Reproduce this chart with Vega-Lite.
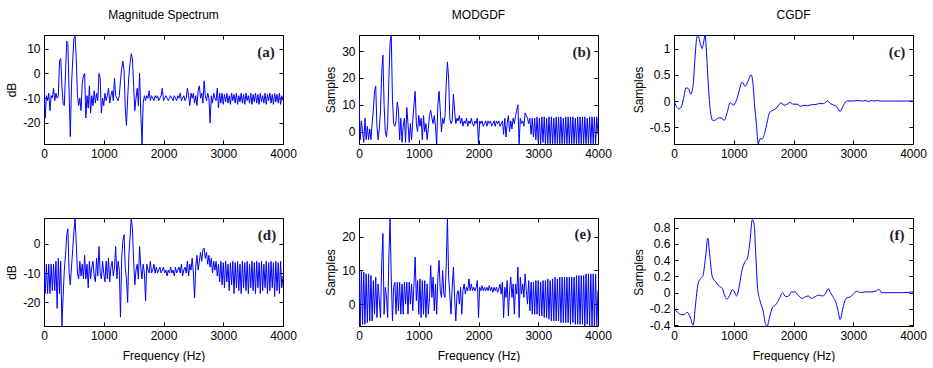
{
"$schema":"https://vega.github.io/schema/vega-lite/v6.json",
"autosize":{"type":"pad"},
"padding":{"left":5,"top":8,"right":0,"bottom":0},
"background":"white",
"datasets":{
"one":[{"k":1}],
"dense":[
{"f":0,"a":-1,"b":13,"d":-7,"e":10},
{"f":20,"a":-18,"b":-3,"d":-17,"e":-6.5},
{"f":40,"a":-9,"b":4,"d":-7,"e":10},
{"f":60,"a":-11,"b":0,"d":-17,"e":-6},
{"f":80,"a":-8,"b":-4,"d":-7,"e":9.5},
{"f":100,"a":-15,"b":5,"d":-17,"e":-6},
{"f":120,"a":-9,"b":-3,"d":-7,"e":9},
{"f":140,"a":-10,"b":2,"d":-16,"e":-5.5},
{"f":160,"a":-6,"b":-3,"d":-7,"e":9},
{"f":180,"a":-11,"b":1,"d":-16,"e":-5},
{"f":200,"a":-8,"b":-3,"d":-6,"e":8.5},
{"f":220,"a":-10,"b":3,"d":-22,"e":-5},
{"f":240,"a":-9,"b":8,"d":-5,"e":7},
{"f":260,"a":5,"b":15,"d":-17,"e":-3},
{"f":280,"a":6,"b":17,"d":-6,"e":8},
{"f":300,"a":-5,"b":2,"d":-28,"e":-4},
{"f":320,"a":-12,"b":-3,"d":-18,"e":6},
{"f":340,"a":-13,"b":1,"d":-9,"e":1},
{"f":360,"a":0,"b":8,"d":-4,"e":-4},
{"f":380,"a":13,"b":22,"d":3,"e":12},
{"f":400,"a":12,"b":28.5,"d":5,"e":21},
{"f":420,"a":-8,"b":10,"d":-10,"e":-3},
{"f":440,"a":-25.5,"b":0,"d":-14,"e":5},
{"f":460,"a":-5,"b":-2,"d":-8,"e":2},
{"f":480,"a":5,"b":3,"d":-2,"e":-4},
{"f":500,"a":14,"b":20,"d":4,"e":14},
{"f":520,"a":15,"b":33,"d":8.7,"e":25.6},
{"f":540,"a":6,"b":36,"d":0,"e":8},
{"f":560,"a":-9,"b":12,"d":-10,"e":-5},
{"f":580,"a":-13,"b":3,"d":-12,"e":5},
{"f":600,"a":-10,"b":2,"d":-6,"e":6.5},
{"f":620,"a":-15,"b":4,"d":-11,"e":-3},
{"f":640,"a":-4,"b":11,"d":-7,"e":6.5},
{"f":660,"a":-1,"b":8,"d":-12,"e":-2},
{"f":680,"a":0,"b":-3,"d":-4,"e":6.5},
{"f":700,"a":-18,"b":5,"d":-12,"e":-3},
{"f":720,"a":-9,"b":-4,"d":-7,"e":6},
{"f":740,"a":-14,"b":2,"d":-15,"e":-3},
{"f":760,"a":-5,"b":5,"d":-6,"e":6.5},
{"f":780,"a":-16,"b":-4,"d":-12,"e":0},
{"f":800,"a":-9,"b":9,"d":-8,"e":6.5},
{"f":820,"a":-13,"b":3,"d":-6,"e":-3},
{"f":840,"a":-7,"b":-4,"d":-11,"e":6.5},
{"f":860,"a":-12,"b":3,"d":-13,"e":0},
{"f":880,"a":-8,"b":-3,"d":-5,"e":6},
{"f":900,"a":-11,"b":4,"d":-11,"e":-2},
{"f":920,"a":0,"b":10,"d":-1,"e":6},
{"f":940,"a":-2,"b":15,"d":-10,"e":14},
{"f":960,"a":-16,"b":3,"d":-12,"e":1},
{"f":980,"a":-10,"b":0,"d":-6,"e":7},
{"f":1000,"a":-13,"b":6,"d":-10,"e":-3},
{"f":1020,"a":-8,"b":2,"d":-13,"e":7.5},
{"f":1040,"a":-11,"b":5,"d":-6,"e":-4},
{"f":1060,"a":-9,"b":-3,"d":-12,"e":7},
{"f":1080,"a":-6,"b":6,"d":-5,"e":-3},
{"f":1100,"a":-12,"b":0,"d":-13,"e":7},
{"f":1120,"a":-9,"b":3,"d":-8,"e":-4},
{"f":1140,"a":-7,"b":-3,"d":-6,"e":6},
{"f":1160,"a":-11,"b":1,"d":-11,"e":-3},
{"f":1180,"a":-2,"b":6,"d":-8,"e":2},
{"f":1200,"a":-9,"b":8,"d":-1,"e":11.5},
{"f":1220,"a":-10,"b":5,"d":-12,"e":2},
{"f":1240,"a":-11,"b":3,"d":-6,"e":8},
{"f":1260,"a":-9,"b":6,"d":-9,"e":-2},
{"f":1280,"a":-3,"b":2,"d":-25,"e":6},
{"f":1300,"a":2,"b":-4.6,"d":-5,"e":-3},
{"f":1320,"a":5,"b":10,"d":1,"e":8},
{"f":1340,"a":1,"b":15,"d":3,"e":13},
{"f":1360,"a":-14,"b":8,"d":-8,"e":4},
{"f":1380,"a":-21,"b":0,"d":-12,"e":2},
{"f":1400,"a":-10,"b":5,"d":-20,"e":10},
{"f":1420,"a":-1,"b":3,"d":-4,"e":3},
{"f":1440,"a":4,"b":6,"d":2,"e":2},
{"f":1460,"a":8,"b":18,"d":8.7,"e":12},
{"f":1480,"a":6,"b":26,"d":5,"e":25.6},
{"f":1500,"a":-5,"b":20,"d":-6,"e":8},
{"f":1520,"a":-15,"b":5,"d":-14,"e":3},
{"f":1540,"a":-10,"b":3,"d":-9,"e":-3},
{"f":1560,"a":-6,"b":4,"d":-7,"e":5},
{"f":1580,"a":-13,"b":14,"d":-12,"e":11},
{"f":1600,"a":0,"b":8,"d":-1,"e":2},
{"f":1620,"a":-16,"b":3,"d":-8,"e":-5},
{"f":1640,"a":-28.5,"b":5,"d":-12,"e":3},
{"f":1660,"a":-12,"b":4,"d":-7,"e":4},
{"f":1680,"a":-9,"b":6,"d":-10,"e":0},
{"f":1700,"a":-11,"b":3,"d":-19.5,"e":5},
{"f":1720,"a":-9,"b":5,"d":-7,"e":-3},
{"f":1740,"a":-10,"b":2,"d":-9,"e":4},
{"f":1760,"a":-7,"b":4,"d":-10,"e":6},
{"f":1780,"a":-11,"b":3,"d":-6,"e":3},
{"f":1800,"a":-9,"b":5,"d":-10,"e":5},
{"f":1820,"a":-10,"b":2,"d":-9,"e":4},
{"f":1840,"a":-11,"b":4,"d":-7,"e":7.5},
{"f":1860,"a":-9,"b":3,"d":-10,"e":4},
{"f":1880,"a":-10,"b":5,"d":-8,"e":6},
{"f":1900,"a":-9,"b":3,"d":-10,"e":4},
{"f":1920,"a":-11,"b":2,"d":-9,"e":5},
{"f":1940,"a":-10,"b":4,"d":-8,"e":4},
{"f":1960,"a":-9,"b":3,"d":-10,"e":5},
{"f":1980,"a":-6,"b":5,"d":-9,"e":7},
{"f":2000,"a":-11,"b":-4.5,"d":-8,"e":-4},
{"f":2020,"a":-10,"b":4,"d":-10,"e":5},
{"f":2040,"a":-9,"b":3,"d":-9,"e":4},
{"f":2060,"a":-10,"b":4,"d":-11,"e":5.5},
{"f":2080,"a":-11,"b":2,"d":-9,"e":4},
{"f":2100,"a":-10,"b":3,"d":-10,"e":5},
{"f":2120,"a":-9,"b":4,"d":-8,"e":4},
{"f":2140,"a":-10,"b":2,"d":-10,"e":5},
{"f":2160,"a":-11,"b":4,"d":-9,"e":4},
{"f":2180,"a":-9,"b":3,"d":-11,"e":5.5},
{"f":2200,"a":-10,"b":4,"d":-8,"e":4},
{"f":2220,"a":-11,"b":2,"d":-10,"e":5},
{"f":2240,"a":-9,"b":3,"d":-9,"e":3.5},
{"f":2260,"a":-10,"b":4,"d":-8,"e":5},
{"f":2280,"a":-8,"b":2,"d":-10,"e":4},
{"f":2300,"a":-11,"b":4,"d":-7,"e":5},
{"f":2320,"a":-10,"b":3,"d":-11,"e":3.5},
{"f":2340,"a":-9,"b":4,"d":-9,"e":4.5},
{"f":2360,"a":-11,"b":2,"d":-8,"e":6},
{"f":2380,"a":-10,"b":3,"d":-10,"e":3},
{"f":2400,"a":-6,"b":4,"d":-6,"e":6.5},
{"f":2420,"a":-9,"b":-1,"d":-11,"e":-4},
{"f":2440,"a":-13,"b":5,"d":-7,"e":5},
{"f":2460,"a":-8,"b":-2,"d":-9,"e":2},
{"f":2480,"a":-10,"b":3,"d":-5,"e":7},
{"f":2500,"a":-8,"b":6,"d":-10,"e":-3.5},
{"f":2520,"a":-12,"b":0,"d":-18.5,"e":4},
{"f":2540,"a":-9,"b":4,"d":-8,"e":8},
{"f":2560,"a":-13,"b":1,"d":-4,"e":2},
{"f":2580,"a":-7,"b":5,"d":-9,"e":6},
{"f":2600,"a":-5,"b":3,"d":-6,"e":-3},
{"f":2620,"a":-10,"b":6,"d":-3,"e":6},
{"f":2640,"a":-8,"b":8,"d":-6,"e":3},
{"f":2660,"a":-12,"b":10,"d":-2,"e":11},
{"f":2680,"a":-3,"b":-4.5,"d":-1.5,"e":-4},
{"f":2700,"a":-9,"b":5,"d":-5,"e":8},
{"f":2720,"a":-11,"b":3,"d":-3,"e":3},
{"f":2740,"a":-8,"b":4,"d":-7,"e":6},
{"f":2760,"a":-10,"b":2,"d":-4,"e":2},
{"f":2780,"a":-20,"b":7,"d":-8,"e":9},
{"f":2800,"a":-9,"b":6,"d":-5,"e":4},
{"f":2820,"a":-12,"b":5,"d":-10,"e":0},
{"f":2840,"a":-8,"b":3,"d":-6,"e":7},
{"f":2860,"a":-10,"b":5,"d":-9,"e":-2},
{"f":2880,"a":-11,"b":-1,"d":-6,"e":6.5},
{"f":2900,"a":-6,"b":5,"d":-11,"e":-3},
{"f":2920,"a":-14,"b":-2,"d":-7,"e":6.5},
{"f":2940,"a":-8,"b":5,"d":-13,"e":-3},
{"f":2960,"a":-12,"b":-3,"d":-6,"e":7},
{"f":2980,"a":-8,"b":5.5,"d":-14,"e":-3},
{"f":3000,"a":-12.5,"b":-4,"d":-6.5,"e":7},
{"f":3020,"a":-8.5,"b":5,"d":-15,"e":-3.5},
{"f":3040,"a":-11.5,"b":-4.5,"d":-6,"e":6.5},
{"f":3060,"a":-8,"b":5.5,"d":-13,"e":-3.5},
{"f":3080,"a":-12,"b":-4,"d":-7,"e":7},
{"f":3100,"a":-9,"b":5.5,"d":-16,"e":-4},
{"f":3120,"a":-12.5,"b":-4.5,"d":-6.5,"e":7},
{"f":3140,"a":-8,"b":5,"d":-14,"e":-4},
{"f":3160,"a":-11,"b":-4.5,"d":-6,"e":7.5},
{"f":3180,"a":-8.5,"b":5.5,"d":-17,"e":-4.5},
{"f":3200,"a":-12,"b":-4.5,"d":-6.5,"e":7},
{"f":3220,"a":-8,"b":5.5,"d":-15,"e":-5},
{"f":3240,"a":-12.5,"b":-4.5,"d":-6,"e":7.5},
{"f":3260,"a":-9,"b":5,"d":-16,"e":-5},
{"f":3280,"a":-11.5,"b":-4.5,"d":-7,"e":8},
{"f":3300,"a":-8,"b":5.5,"d":-17,"e":-5},
{"f":3320,"a":-12,"b":-4.5,"d":-6,"e":7.5},
{"f":3340,"a":-8.5,"b":5.5,"d":-15,"e":-5},
{"f":3360,"a":-12.5,"b":-4.5,"d":-6.5,"e":8},
{"f":3380,"a":-8,"b":5.5,"d":-16,"e":-5.5},
{"f":3400,"a":-11,"b":-4.5,"d":-6,"e":8},
{"f":3420,"a":-9,"b":5,"d":-17,"e":-5.5},
{"f":3440,"a":-12,"b":-4.5,"d":-7,"e":8},
{"f":3460,"a":-8,"b":5.5,"d":-15,"e":-5.5},
{"f":3480,"a":-12.5,"b":-4.5,"d":-6,"e":8},
{"f":3500,"a":-8.5,"b":5.5,"d":-16,"e":-5.5},
{"f":3520,"a":-11.5,"b":-4.5,"d":-6.5,"e":8},
{"f":3540,"a":-8,"b":5.5,"d":-17,"e":-6},
{"f":3560,"a":-12,"b":-4.5,"d":-6,"e":8},
{"f":3580,"a":-8.5,"b":5.5,"d":-15,"e":-5.5},
{"f":3600,"a":-12.5,"b":-4.5,"d":-6.5,"e":8},
{"f":3620,"a":-8,"b":5,"d":-17,"e":-6},
{"f":3640,"a":-11.5,"b":-4.5,"d":-6,"e":8.5},
{"f":3660,"a":-9,"b":5.5,"d":-16,"e":-6},
{"f":3680,"a":-12,"b":-4.5,"d":-7,"e":8.5},
{"f":3700,"a":-8,"b":5.5,"d":-15,"e":-6},
{"f":3720,"a":-12.5,"b":-4.5,"d":-6,"e":8.5},
{"f":3740,"a":-8.5,"b":5.5,"d":-17,"e":-6},
{"f":3760,"a":-11,"b":-4.5,"d":-6.5,"e":8.5},
{"f":3780,"a":-8,"b":5.5,"d":-16,"e":-6.5},
{"f":3800,"a":-12,"b":-4.5,"d":-6,"e":9},
{"f":3820,"a":-8.5,"b":5,"d":-15,"e":-6},
{"f":3840,"a":-12.5,"b":-4.5,"d":-6.5,"e":9},
{"f":3860,"a":-8,"b":5.5,"d":-18,"e":-6.5},
{"f":3880,"a":-11.5,"b":-4.5,"d":-6,"e":9},
{"f":3900,"a":-8.5,"b":5.5,"d":-16,"e":-6.5},
{"f":3920,"a":-12,"b":-4.5,"d":-6.5,"e":9},
{"f":3940,"a":-8,"b":5.5,"d":-17,"e":-6.5},
{"f":3960,"a":-12.5,"b":-4.5,"d":-6,"e":9},
{"f":3980,"a":-9,"b":5.5,"d":-15,"e":-6.5},
{"f":4000,"a":-11,"b":-1,"d":-11,"e":4}
],
"cgdf1":[
{"f":0,"v":0},{"f":40,"v":-0.1},{"f":80,"v":-0.15},{"f":120,"v":-0.12},{"f":160,"v":0.05},{"f":200,"v":0.25},{"f":240,"v":0.24},{"f":280,"v":0.13},{"f":320,"v":0.3},{"f":350,"v":0.8},{"f":380,"v":1.2},{"f":400,"v":1.26},{"f":440,"v":1.1},{"f":470,"v":1.0},{"f":500,"v":1.15},{"f":520,"v":1.26},{"f":545,"v":0.9},{"f":575,"v":0.3},{"f":610,"v":-0.2},{"f":650,"v":-0.37},{"f":700,"v":-0.36},{"f":740,"v":-0.32},{"f":790,"v":-0.32},{"f":840,"v":-0.37},{"f":890,"v":-0.22},{"f":940,"v":-0.03},{"f":990,"v":-0.08},{"f":1040,"v":0.0},{"f":1080,"v":0.15},{"f":1140,"v":0.36},{"f":1190,"v":0.28},{"f":1240,"v":0.38},{"f":1290,"v":0.5},{"f":1320,"v":0.35},{"f":1350,"v":-0.1},{"f":1380,"v":-0.45},{"f":1410,"v":-0.82},{"f":1440,"v":-0.72},{"f":1480,"v":-0.72},{"f":1520,"v":-0.6},{"f":1560,"v":-0.4},{"f":1600,"v":-0.22},{"f":1650,"v":-0.18},{"f":1700,"v":-0.15},{"f":1750,"v":-0.08},{"f":1790,"v":-0.03},{"f":1840,"v":-0.08},{"f":1880,"v":-0.07},{"f":1940,"v":-0.03},{"f":2000,"v":-0.06},{"f":2060,"v":-0.06},{"f":2120,"v":-0.1},{"f":2180,"v":-0.08},{"f":2240,"v":-0.09},{"f":2300,"v":-0.07},{"f":2360,"v":-0.07},{"f":2420,"v":-0.05},{"f":2500,"v":-0.05},{"f":2570,"v":0.0},{"f":2620,"v":-0.05},{"f":2680,"v":-0.08},{"f":2730,"v":-0.12},{"f":2780,"v":-0.2},{"f":2820,"v":-0.12},{"f":2860,"v":-0.03},{"f":2900,"v":0.0},{"f":3000,"v":0.0},{"f":3060,"v":0.01},{"f":3150,"v":0.0},{"f":3200,"v":0.01},{"f":3260,"v":-0.01},{"f":3300,"v":0.01},{"f":3340,"v":0.0},{"f":3400,"v":0.01},{"f":3450,"v":0.0},{"f":3600,"v":0.0},{"f":4000,"v":0.0}
],
"cgdf2":[
{"f":0,"v":-0.2},{"f":60,"v":-0.24},{"f":120,"v":-0.27},{"f":170,"v":-0.27},{"f":220,"v":-0.24},{"f":270,"v":-0.3},{"f":320,"v":-0.4},{"f":360,"v":-0.15},{"f":400,"v":0.1},{"f":440,"v":0.17},{"f":480,"v":0.2},{"f":530,"v":0.45},{"f":565,"v":0.67},{"f":600,"v":0.45},{"f":640,"v":0.2},{"f":700,"v":0.13},{"f":760,"v":0.08},{"f":810,"v":0.05},{"f":850,"v":-0.04},{"f":890,"v":-0.08},{"f":940,"v":-0.02},{"f":980,"v":0.04},{"f":1010,"v":0.01},{"f":1045,"v":-0.04},{"f":1080,"v":0.03},{"f":1130,"v":0.25},{"f":1180,"v":0.37},{"f":1230,"v":0.43},{"f":1270,"v":0.62},{"f":1310,"v":0.9},{"f":1340,"v":0.85},{"f":1370,"v":0.45},{"f":1400,"v":0.05},{"f":1440,"v":-0.1},{"f":1490,"v":-0.22},{"f":1530,"v":-0.38},{"f":1560,"v":-0.41},{"f":1600,"v":-0.3},{"f":1650,"v":-0.18},{"f":1700,"v":-0.15},{"f":1760,"v":-0.08},{"f":1820,"v":0.0},{"f":1870,"v":-0.05},{"f":1920,"v":-0.04},{"f":1970,"v":0.01},{"f":2020,"v":0.01},{"f":2080,"v":-0.03},{"f":2140,"v":-0.07},{"f":2200,"v":-0.05},{"f":2250,"v":-0.04},{"f":2300,"v":-0.07},{"f":2360,"v":-0.05},{"f":2420,"v":-0.03},{"f":2480,"v":-0.04},{"f":2530,"v":-0.02},{"f":2580,"v":0.05},{"f":2620,"v":0.0},{"f":2660,"v":-0.05},{"f":2700,"v":-0.1},{"f":2740,"v":-0.2},{"f":2780,"v":-0.33},{"f":2830,"v":-0.18},{"f":2880,"v":-0.07},{"f":2950,"v":-0.05},{"f":3000,"v":-0.02},{"f":3060,"v":0.02},{"f":3120,"v":0.0},{"f":3200,"v":0.01},{"f":3300,"v":0.01},{"f":3380,"v":0.02},{"f":3430,"v":0.04},{"f":3480,"v":0.0},{"f":3600,"v":0.0},{"f":3800,"v":0.0},{"f":4000,"v":0.01}
]
},
"columns":3,
"spacing":{"row":74,"column":76},
"bounds":"flush",
"concat":[
{"width":239,"height":109,"title":{"text":"Magnitude Spectrum"},"data":{"name":"dense"},
"layer":[
{"mark":{"type":"line","color":"#0000ff","strokeWidth":1,"clip":true},
"encoding":{"x":{"field":"f","type":"quantitative","scale":{"domain":[0,4000],"nice":false},"axis":{"values":[0,1000,2000,3000,4000],"title":null}},
"y":{"field":"a","type":"quantitative","scale":{"domain":[-28.5,15.5],"nice":false,"zero":false},"axis":{"values":[-20,-10,0,10],"title":"dB"}}}},
{"mark":{"type":"line","strokeOpacity":0},
"encoding":{"x":{"field":"f","type":"quantitative","scale":{"domain":[0,4000],"nice":false},"axis":{"orient":"top","values":[0,1000,2000,3000,4000],"labels":false,"title":null}},
"y":{"field":"a","type":"quantitative","scale":{"domain":[-28.5,15.5],"nice":false,"zero":false},"axis":{"orient":"right","values":[-20,-10,0,10],"labels":false,"title":null}}}},
{"data":{"name":"one"},"mark":{"type":"text","font":"Liberation Serif","fontWeight":"bold","fontSize":15,"color":"#1e1e2a"},
"encoding":{"x":{"datum":3715,"type":"quantitative","scale":{"domain":[0,4000],"nice":false},"axis":null},"y":{"datum":8.7,"type":"quantitative","scale":{"domain":[-28.5,15.5],"nice":false,"zero":false},"axis":null},"text":{"value":"(a)"}}}
],
"resolve":{"axis":{"x":"independent","y":"independent"}}},
{"width":239,"height":109,"title":{"text":"MODGDF"},"data":{"name":"dense"},
"layer":[
{"mark":{"type":"line","color":"#0000ff","strokeWidth":1,"clip":true},
"encoding":{"x":{"field":"f","type":"quantitative","scale":{"domain":[0,4000],"nice":false},"axis":{"values":[0,1000,2000,3000,4000],"title":null}},
"y":{"field":"b","type":"quantitative","scale":{"domain":[-4.6,36],"nice":false,"zero":false},"axis":{"values":[0,10,20,30],"title":"Samples"}}}},
{"mark":{"type":"line","strokeOpacity":0},
"encoding":{"x":{"field":"f","type":"quantitative","scale":{"domain":[0,4000],"nice":false},"axis":{"orient":"top","values":[0,1000,2000,3000,4000],"labels":false,"title":null}},
"y":{"field":"b","type":"quantitative","scale":{"domain":[-4.6,36],"nice":false,"zero":false},"axis":{"orient":"right","values":[0,10,20,30],"labels":false,"title":null}}}},
{"data":{"name":"one"},"mark":{"type":"text","font":"Liberation Serif","fontWeight":"bold","fontSize":15,"color":"#1e1e2a"},
"encoding":{"x":{"datum":3726,"type":"quantitative","scale":{"domain":[0,4000],"nice":false},"axis":null},"y":{"datum":29.7,"type":"quantitative","scale":{"domain":[-4.6,36],"nice":false,"zero":false},"axis":null},"text":{"value":"(b)"}}}
],
"resolve":{"axis":{"x":"independent","y":"independent"}}},
{"width":239,"height":109,"title":{"text":"CGDF"},"data":{"name":"cgdf1"},
"layer":[
{"mark":{"type":"line","color":"#0000ff","strokeWidth":1,"clip":true,"interpolate":"monotone"},
"encoding":{"x":{"field":"f","type":"quantitative","scale":{"domain":[0,4000],"nice":false},"axis":{"values":[0,1000,2000,3000,4000],"title":null}},
"y":{"field":"v","type":"quantitative","scale":{"domain":[-0.82,1.26],"nice":false,"zero":false},"axis":{"values":[-0.5,0,0.5,1],"title":"Samples"}}}},
{"mark":{"type":"line","strokeOpacity":0},
"encoding":{"x":{"field":"f","type":"quantitative","scale":{"domain":[0,4000],"nice":false},"axis":{"orient":"top","values":[0,1000,2000,3000,4000],"labels":false,"title":null}},
"y":{"field":"v","type":"quantitative","scale":{"domain":[-0.82,1.26],"nice":false,"zero":false},"axis":{"orient":"right","values":[-0.5,0,0.5,1],"labels":false,"title":null}}}},
{"data":{"name":"one"},"mark":{"type":"text","font":"Liberation Serif","fontWeight":"bold","fontSize":15,"color":"#1e1e2a"},
"encoding":{"x":{"datum":3732,"type":"quantitative","scale":{"domain":[0,4000],"nice":false},"axis":null},"y":{"datum":0.94,"type":"quantitative","scale":{"domain":[-0.82,1.26],"nice":false,"zero":false},"axis":null},"text":{"value":"(c)"}}}
],
"resolve":{"axis":{"x":"independent","y":"independent"}}},
{"width":239,"height":108,"data":{"name":"dense"},
"layer":[
{"mark":{"type":"line","color":"#0000ff","strokeWidth":1,"clip":true},
"encoding":{"x":{"field":"f","type":"quantitative","scale":{"domain":[0,4000],"nice":false},"axis":{"values":[0,1000,2000,3000,4000],"title":"Frequency (Hz)"}},
"y":{"field":"d","type":"quantitative","scale":{"domain":[-28,8.7],"nice":false,"zero":false},"axis":{"values":[-20,-10,0],"title":"dB"}}}},
{"mark":{"type":"line","strokeOpacity":0},
"encoding":{"x":{"field":"f","type":"quantitative","scale":{"domain":[0,4000],"nice":false},"axis":{"orient":"top","values":[0,1000,2000,3000,4000],"labels":false,"title":null}},
"y":{"field":"d","type":"quantitative","scale":{"domain":[-28,8.7],"nice":false,"zero":false},"axis":{"orient":"right","values":[-20,-10,0],"labels":false,"title":null}}}},
{"data":{"name":"one"},"mark":{"type":"text","font":"Liberation Serif","fontWeight":"bold","fontSize":15,"color":"#1e1e2a"},
"encoding":{"x":{"datum":3732,"type":"quantitative","scale":{"domain":[0,4000],"nice":false},"axis":null},"y":{"datum":3.05,"type":"quantitative","scale":{"domain":[-28,8.7],"nice":false,"zero":false},"axis":null},"text":{"value":"(d)"}}}
],
"resolve":{"axis":{"x":"independent","y":"independent"}}},
{"width":239,"height":108,"data":{"name":"dense"},
"layer":[
{"mark":{"type":"line","color":"#0000ff","strokeWidth":1,"clip":true},
"encoding":{"x":{"field":"f","type":"quantitative","scale":{"domain":[0,4000],"nice":false},"axis":{"values":[0,1000,2000,3000,4000],"title":"Frequency (Hz)"}},
"y":{"field":"e","type":"quantitative","scale":{"domain":[-6.5,25.6],"nice":false,"zero":false},"axis":{"values":[0,10,20],"title":"Samples"}}}},
{"mark":{"type":"line","strokeOpacity":0},
"encoding":{"x":{"field":"f","type":"quantitative","scale":{"domain":[0,4000],"nice":false},"axis":{"orient":"top","values":[0,1000,2000,3000,4000],"labels":false,"title":null}},
"y":{"field":"e","type":"quantitative","scale":{"domain":[-6.5,25.6],"nice":false,"zero":false},"axis":{"orient":"right","values":[0,10,20],"labels":false,"title":null}}}},
{"data":{"name":"one"},"mark":{"type":"text","font":"Liberation Serif","fontWeight":"bold","fontSize":15,"color":"#1e1e2a"},
"encoding":{"x":{"datum":3748,"type":"quantitative","scale":{"domain":[0,4000],"nice":false},"axis":null},"y":{"datum":20.7,"type":"quantitative","scale":{"domain":[-6.5,25.6],"nice":false,"zero":false},"axis":null},"text":{"value":"(e)"}}}
],
"resolve":{"axis":{"x":"independent","y":"independent"}}},
{"width":239,"height":108,"data":{"name":"cgdf2"},
"layer":[
{"mark":{"type":"line","color":"#0000ff","strokeWidth":1,"clip":true,"interpolate":"monotone"},
"encoding":{"x":{"field":"f","type":"quantitative","scale":{"domain":[0,4000],"nice":false},"axis":{"values":[0,1000,2000,3000,4000],"title":"Frequency (Hz)"}},
"y":{"field":"v","type":"quantitative","scale":{"domain":[-0.41,0.92],"nice":false,"zero":false},"axis":{"values":[-0.4,-0.2,0,0.2,0.4,0.6,0.8],"title":"Samples"}}}},
{"mark":{"type":"line","strokeOpacity":0},
"encoding":{"x":{"field":"f","type":"quantitative","scale":{"domain":[0,4000],"nice":false},"axis":{"orient":"top","values":[0,1000,2000,3000,4000],"labels":false,"title":null}},
"y":{"field":"v","type":"quantitative","scale":{"domain":[-0.41,0.92],"nice":false,"zero":false},"axis":{"orient":"right","values":[-0.4,-0.2,0,0.2,0.4,0.6,0.8],"labels":false,"title":null}}}},
{"data":{"name":"one"},"mark":{"type":"text","font":"Liberation Serif","fontWeight":"bold","fontSize":15,"color":"#1e1e2a"},
"encoding":{"x":{"datum":3732,"type":"quantitative","scale":{"domain":[0,4000],"nice":false},"axis":null},"y":{"datum":0.71,"type":"quantitative","scale":{"domain":[-0.41,0.92],"nice":false,"zero":false},"axis":null},"text":{"value":"(f)"}}}
],
"resolve":{"axis":{"x":"independent","y":"independent"}}}
],
"config":{
"view":{"stroke":"#000000","strokeWidth":1},
"axis":{"grid":false,"domain":false,"ticks":true,"tickSize":-4,"tickColor":"#000000","labelPadding":8,"labelExpr":"'' + datum.value","labelFont":"Liberation Sans","labelFontSize":12,"labelColor":"#000000","labelFlush":false,"labelOverlap":false,"titleFont":"Liberation Sans","titleFontSize":12,"titleFontWeight":"normal","titleColor":"#000000"},
"axisX":{"titlePadding":9},
"title":{"font":"Liberation Sans","fontSize":12,"fontWeight":"normal","color":"#000000","baseline":"alphabetic","offset":13,"anchor":"middle"}
}
}
